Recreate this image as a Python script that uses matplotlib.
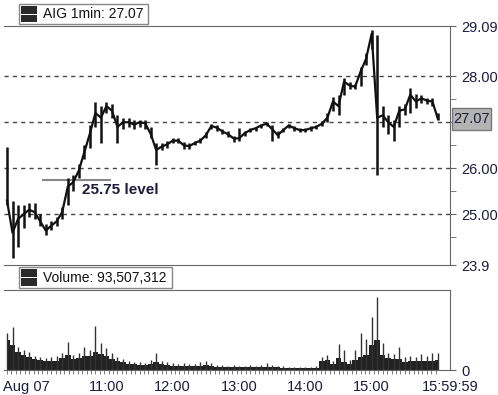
import matplotlib.pyplot as plt
from matplotlib.patches import Rectangle

plt.rcParams['font.family'] = ['Liberation Sans', 'DejaVu Sans']

W, H = 498, 395


def fx(x):
    return x / W


def fy(y):
    return 1 - y / H


# minutes after 9:30, one value per 5 minutes
minutes = list(range(0, 391, 5))

close = [25.3, 24.6, 24.9, 25.0, 25.1, 25.05, 24.85, 24.65, 24.75, 24.85,
         25.05, 25.6, 25.7, 25.95, 26.35, 26.75, 27.2, 27.1, 27.35, 27.25,
         26.9, 27.0, 27.0, 26.95, 27.0, 26.98, 26.75, 26.4, 26.47, 26.52,
         26.6, 26.6, 26.5, 26.48, 26.55, 26.6, 26.72, 26.92, 26.88, 26.8,
         26.74, 26.65, 26.65, 26.76, 26.83, 26.87, 26.93, 26.97, 26.85, 26.72,
         26.83, 26.93, 26.87, 26.83, 26.83, 26.87, 26.9, 26.97, 27.1, 27.45,
         27.35, 27.88, 27.8, 27.77, 28.1, 28.38, 28.92, 27.1, 27.15, 27.0,
         26.9, 27.25, 27.28, 27.6, 27.45, 27.52, 27.47, 27.45, 27.07]
high = [26.46, 25.3, 25.2, 25.2, 25.25, 25.25, 25.0, 24.8, 24.85, 24.95,
        25.15, 25.8, 25.85, 26.1, 26.5, 26.95, 27.45, 27.35, 27.45, 27.4,
        27.15, 27.1, 27.1, 27.05, 27.05, 27.05, 26.9, 26.55, 26.55, 26.6,
        26.65, 26.65, 26.58, 26.55, 26.6, 26.65, 26.78, 26.97, 26.93, 26.86,
        26.8, 26.7, 26.87, 26.8, 26.87, 26.9, 26.97, 27.0, 26.95, 26.8,
        26.88, 26.97, 26.92, 26.88, 26.88, 26.92, 26.94, 27.02, 27.2, 27.55,
        27.6, 27.95, 27.88, 27.82, 28.2, 28.5, 29.0, 28.9, 27.35, 27.15,
        27.05, 27.35, 27.4, 27.75, 27.62, 27.6, 27.52, 27.52, 27.2]
low = [25.2, 24.05, 24.3, 24.7, 24.95, 24.9, 24.75, 24.55, 24.65, 24.75,
       24.9, 25.2, 25.5, 25.8, 26.2, 26.45, 26.9, 26.55, 27.2, 27.1,
       26.55, 26.85, 26.9, 26.85, 26.9, 26.85, 26.65, 26.07, 26.4, 26.45,
       26.55, 26.55, 26.42, 26.42, 26.5, 26.55, 26.65, 26.85, 26.82, 26.74,
       26.68, 26.58, 26.6, 26.7, 26.78, 26.82, 26.88, 26.92, 26.6, 26.65,
       26.78, 26.88, 26.82, 26.78, 26.78, 26.82, 26.85, 26.92, 27.0, 27.25,
       27.15, 27.6, 27.72, 27.72, 27.78, 28.25, 28.6, 25.85, 26.9, 26.75,
       26.6, 26.9, 27.15, 27.2, 27.3, 27.42, 27.4, 27.35, 27.05]

# volume, thousands of shares per minute (typical and peak minute in each 5 min)
vol_base = [900, 750, 540, 450, 390, 330, 300, 270, 270, 270,
            360, 450, 330, 360, 420, 420, 540, 480, 420, 330,
            270, 240, 180, 180, 150, 150, 180, 240, 180, 150,
            120, 120, 120, 120, 120, 120, 150, 120, 90, 90,
            90, 90, 90, 90, 90, 90, 90, 90, 90, 90,
            60, 60, 60, 60, 60, 60, 60, 270, 300, 180,
            360, 240, 180, 300, 390, 450, 750, 900, 450, 360,
            330, 330, 240, 270, 270, 270, 270, 270, 300]
vol_peak = [1110, 1290, 690, 600, 540, 420, 390, 360, 390, 420,
            510, 840, 450, 510, 690, 600, 1320, 810, 660, 510,
            390, 330, 270, 240, 240, 210, 300, 510, 270, 240,
            210, 180, 210, 180, 180, 240, 270, 210, 150, 150,
            120, 150, 120, 120, 150, 120, 150, 210, 150, 120,
            120, 90, 90, 90, 90, 90, 120, 390, 450, 270,
            780, 600, 300, 600, 1110, 930, 1590, 2190, 810, 510,
            480, 690, 390, 420, 390, 480, 420, 510, 510]

price_ticks = [23.9, 25, 26, 27, 28, 29.09]
price_labels = ['23.9', '25.00', '26.00', '', '28.00', '29.09']
grid_levels = [25, 26, 27, 28]
time_ticks = [18, 90, 150, 210, 270, 330, 400.9]
time_labels = ['Aug 07', '11:00', '12:00', '13:00', '14:00', '15:00', '15:59:59']

spine_c = '#666666'
text_c = '#1c1c3c'

fig = plt.figure(figsize=(4.98, 3.95), dpi=100)
ax = fig.add_axes([fx(4), fy(265), fx(450) - fx(4), fy(26) - fy(265)])
axv = fig.add_axes([fx(4), fy(370), fx(450) - fx(4), fy(290) - fy(370)])

# price panel
for lvl in grid_levels:
    ax.axhline(lvl, color='#444444', lw=1, ls=(0, (3, 3)), zorder=1)
ax.vlines(minutes, low, high, color='#111111', lw=1.8, zorder=3)
ax.plot(minutes, close, color='#111111', lw=1.6, zorder=3)
ax.plot([32.6, 93.2], [25.75, 25.75], color='#888888', lw=1.5, zorder=2)
ax.text(67.9, 25.52, '25.75 level', fontsize=11, fontweight='bold',
        color=text_c, ha='left', va='center')

ax.set_xlim(-2.7, 400.9)
ax.set_ylim(23.9, 29.09)
ax.set_xticks([])
ax.yaxis.tick_right()
ax.set_yticks(price_ticks)
ax.set_yticklabels(price_labels)
ax.set_yticks([24.5, 25.5, 26.5, 27.5], minor=True)
ax.tick_params(axis='y', which='both', length=4, color=spine_c,
               labelsize=10.5, pad=4, labelcolor=text_c)
ax.spines['left'].set_visible(False)
for s in ['top', 'right', 'bottom']:
    ax.spines[s].set_color(spine_c)

# volume panel
axv.fill_between(minutes, vol_base, step='mid', color='#222222', lw=0)
axv.vlines(minutes, 0, vol_peak, color='#333333', lw=1)
axv.set_xlim(-2.7, 400.9)
axv.set_ylim(0, 2400)
axv.yaxis.tick_right()
axv.set_yticks([0])
axv.set_yticklabels(['0'])
axv.tick_params(axis='y', length=4, color=spine_c, labelsize=10.5, pad=4,
                labelcolor=text_c)
axv.set_xticks(time_ticks)
axv.set_xticklabels(time_labels)
axv.set_xticks(list(range(0, 390, 4)), minor=True)
axv.tick_params(axis='x', which='major', length=0, pad=7, labelsize=10.5,
                labelcolor=text_c)
axv.tick_params(axis='x', which='minor', length=3, color=spine_c)
axv.spines['left'].set_visible(False)
for s in ['top', 'right', 'bottom']:
    axv.spines[s].set_color(spine_c)


def legend_box(x0, y0, x1, y1, label):
    fig.patches.append(Rectangle((fx(x0), fy(y1)), fx(x1) - fx(x0), fy(y0) - fy(y1),
                                 transform=fig.transFigure, facecolor='white',
                                 edgecolor='#888888', lw=1))
    mid = (y0 + y1) / 2
    for top, bot in [(y0 + 2, mid - 0.5), (mid + 0.5, y1 - 2)]:
        fig.patches.append(Rectangle((fx(21), fy(bot)), fx(37) - fx(21), fy(top) - fy(bot),
                                     transform=fig.transFigure, facecolor='#2a2a2a',
                                     edgecolor='none'))
    fig.text(fx(43), fy(mid), label, fontsize=10, color='#111111', va='center')


legend_box(19, 4, 148, 24, 'AIG 1min: 27.07')
legend_box(19, 267, 172, 288, 'Volume: 93,507,312')

# last price marker
fig.patches.append(Rectangle((fx(451.7), fy(130)), fx(490.7) - fx(451.7), fy(108) - fy(130),
                             transform=fig.transFigure, facecolor='#b4b4b4',
                             edgecolor='#777777', lw=1))
fig.text(fx(453), fy(119), '27.07', fontsize=10.5, color=text_c, va='center')

fig.savefig('out.png', dpi=100)
